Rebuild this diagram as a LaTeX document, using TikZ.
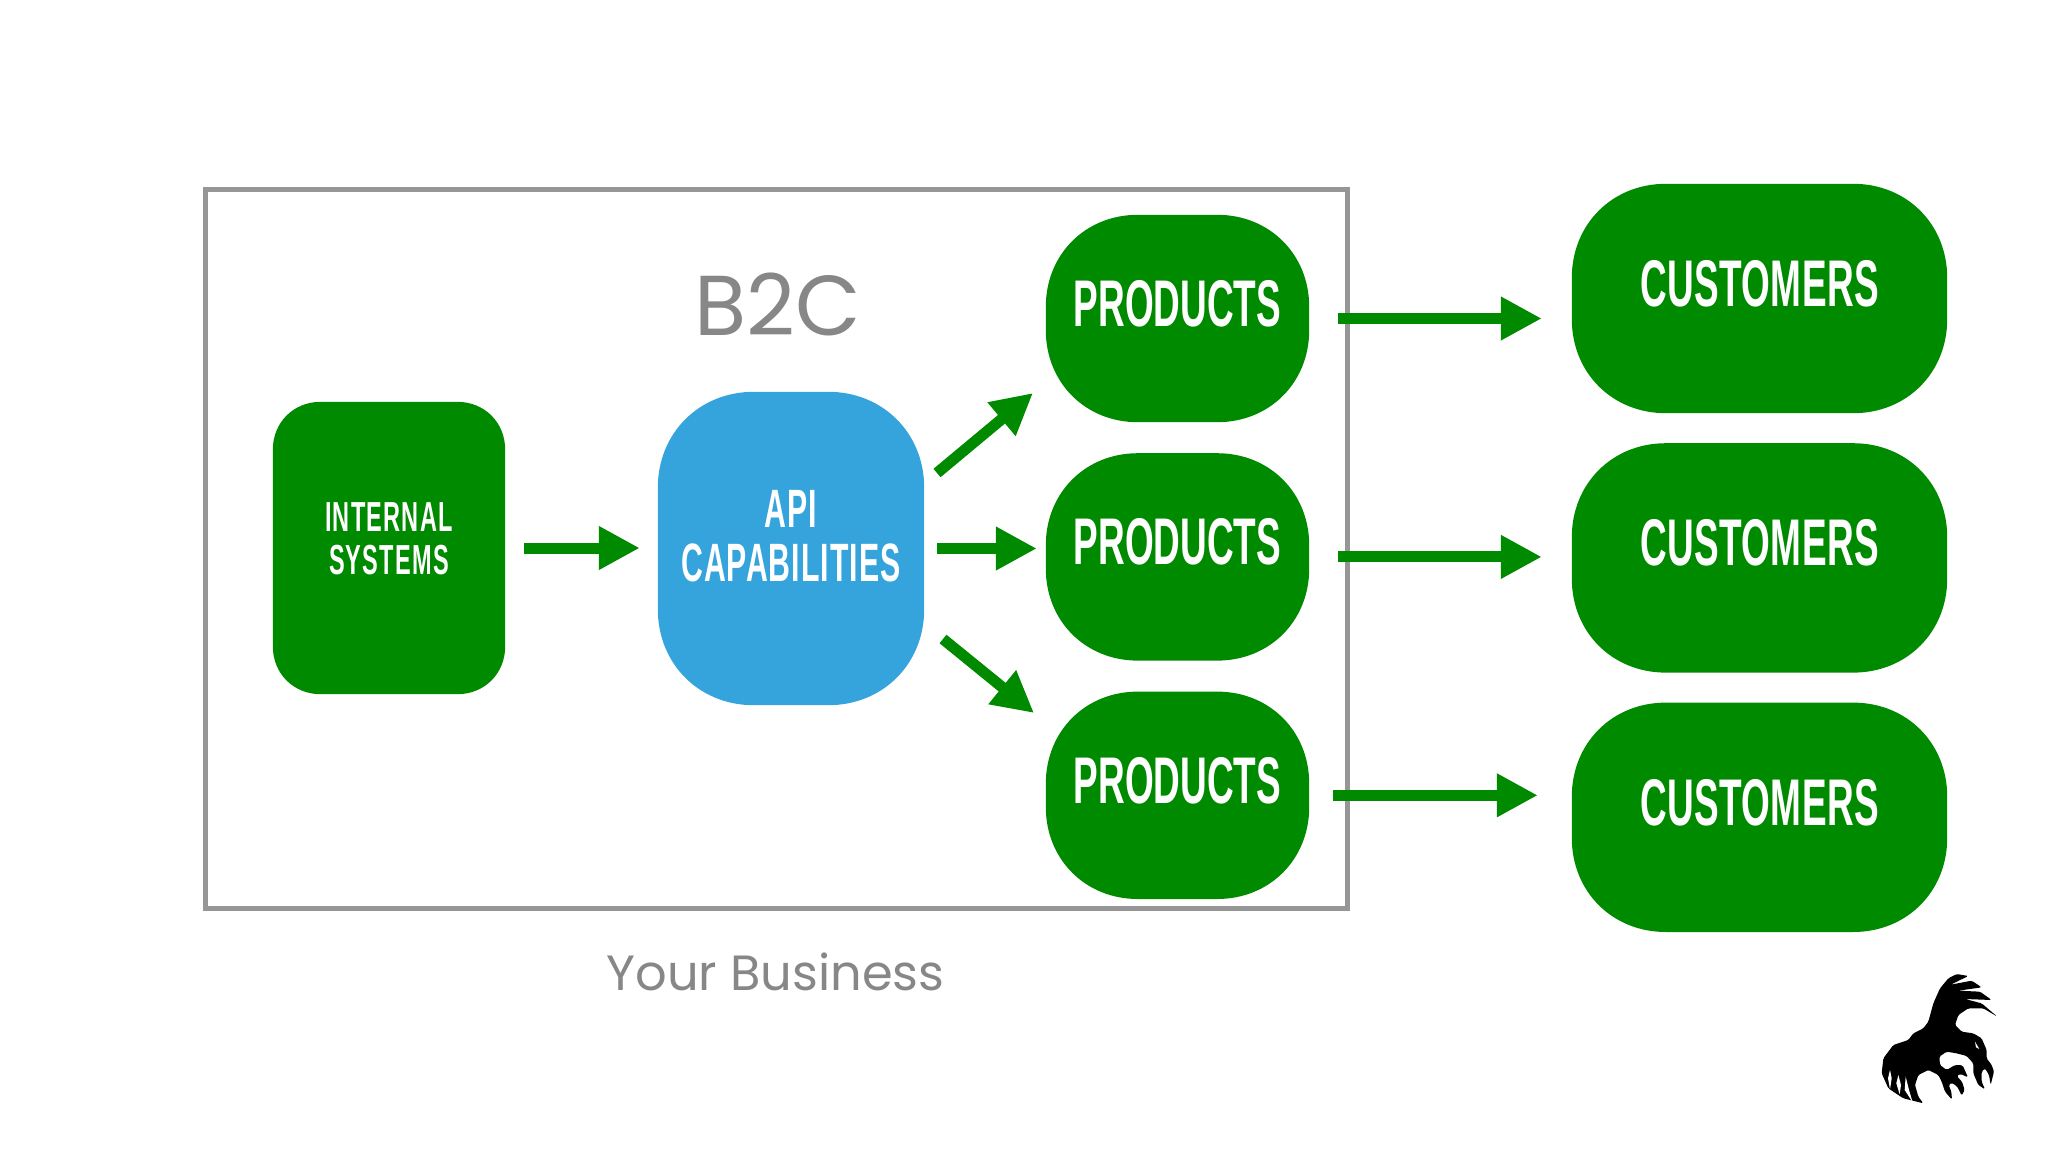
\documentclass[tikz,border=0pt]{standalone}
\usepackage{fontspec}
\usepackage{tikz}
\usetikzlibrary{positioning, arrows.meta, calc}
\setmainfont{Liberation Sans}
\newfontfamily\dinfont[FakeStretch=.56]{Liberation Sans}
\newfontfamily\titlefont{Poppins}
\definecolor{BoxGreen}{RGB}{0,138,0}
\definecolor{ApiBlue}{RGB}{53,164,220}
\definecolor{FrameGray}{RGB}{150,150,150}
\definecolor{TextGray}{RGB}{135,135,135}

% nearly a rectangle, with soft corners
\newdimen\sqL \newdimen\sqR \newdimen\sqT \newdimen\sqB \newdimen\sqr \newdimen\sqc
\makeatletter
\pgfdeclareshape{squircle}{
  \inheritsavedanchors[from=rectangle]
  \inheritanchorborder[from=rectangle]
  \inheritanchor[from=rectangle]{center}
  \inheritanchor[from=rectangle]{north}
  \inheritanchor[from=rectangle]{south}
  \inheritanchor[from=rectangle]{west}
  \inheritanchor[from=rectangle]{east}
  \backgroundpath{
    \southwest \sqL=\pgf@x \sqB=\pgf@y
    \northeast \sqR=\pgf@x \sqT=\pgf@y
    \sqr=\squircleradius \sqc=.43\sqr
    \pgfpathmoveto{\pgfqpoint{\dimexpr\sqL+\sqr}{\sqB}}
    \pgfpathlineto{\pgfqpoint{\dimexpr\sqR-\sqr}{\sqB}}
    \pgfpathcurveto{\pgfqpoint{\dimexpr\sqR-\sqc}{\sqB}}{\pgfqpoint{\sqR}{\dimexpr\sqB+\sqc}}{\pgfqpoint{\sqR}{\dimexpr\sqB+\sqr}}
    \pgfpathlineto{\pgfqpoint{\sqR}{\dimexpr\sqT-\sqr}}
    \pgfpathcurveto{\pgfqpoint{\sqR}{\dimexpr\sqT-\sqc}}{\pgfqpoint{\dimexpr\sqR-\sqc}{\sqT}}{\pgfqpoint{\dimexpr\sqR-\sqr}{\sqT}}
    \pgfpathlineto{\pgfqpoint{\dimexpr\sqL+\sqr}{\sqT}}
    \pgfpathcurveto{\pgfqpoint{\dimexpr\sqL+\sqc}{\sqT}}{\pgfqpoint{\sqL}{\dimexpr\sqT-\sqc}}{\pgfqpoint{\sqL}{\dimexpr\sqT-\sqr}}
    \pgfpathlineto{\pgfqpoint{\sqL}{\dimexpr\sqB+\sqr}}
    \pgfpathcurveto{\pgfqpoint{\sqL}{\dimexpr\sqB+\sqc}}{\pgfqpoint{\dimexpr\sqL+\sqc}{\sqB}}{\pgfqpoint{\dimexpr\sqL+\sqr}{\sqB}}
    \pgfpathclose
  }
}
\makeatother
\tikzset{squircle radius/.store in=\squircleradius, squircle radius=90pt}

\begin{document}
\begin{tikzpicture}[x=1pt, y=-1pt,
  box/.style={
    shape=squircle,
    fill=BoxGreen,
    align=center,
    text=white,
    inner sep=0pt,
    font=\dinfont\bfseries\fontsize{66}{66}\selectfont
  },
  product/.style={box, minimum width=263pt, minimum height=207pt, squircle radius=92pt, text depth=30pt},
  customer/.style={box, minimum width=375pt, minimum height=229pt, squircle radius=94pt, text depth=30pt,
    font=\dinfont\bfseries\fontsize{66}{66}\selectfont\addfontfeature{LetterSpace=.6}},
  arrow/.style={-{Triangle[length=41pt, width=41pt]}, line width=11pt, draw=BoxGreen}
]
  \useasboundingbox (0,0) rectangle (2048,1152);

  \node[draw=FrameGray, line width=5pt, minimum width=1142pt, minimum height=719pt, inner sep=0pt] (business) at (776,548.5) {};

  \node[box, minimum width=232pt, minimum height=292pt, squircle radius=48pt, text depth=18pt,
    font=\dinfont\bfseries\fontsize{42}{43}\selectfont\addfontfeature{LetterSpace=3}] (internal) at (389,548) {INTERNAL\\SYSTEMS};
  \node[box, fill=ApiBlue, minimum width=266pt, minimum height=313pt, squircle radius=96pt, text depth=26pt,
    font=\dinfont\bfseries\fontsize{54}{54}\selectfont\addfontfeature{LetterSpace=2}] (api) at (791,548.5) {API\\CAPABILITIES};

  \node[product] (prod1) at (1177.5,318.5) {PRODUCTS};
  \node[product, below=31pt of prod1] (prod2) {PRODUCTS};
  \node[product, below=31pt of prod2] (prod3) {PRODUCTS};

  \node[customer] (cust1) at (1759.5,298.5) {CUSTOMERS};
  \node[customer, below=30pt of cust1] (cust2) {CUSTOMERS};
  \node[customer, below=30pt of cust2] (cust3) {CUSTOMERS};

  \coordinate (upstart) at (937,473);
  \coordinate (uptip) at (1033,393);
  \coordinate (downstart) at (943,639);
  \coordinate (downtip) at (1034,713);

  \draw[arrow, shorten <=19pt, shorten >=18pt] (internal.east) -- (internal.east -| api.west);
  \draw[arrow, shorten <=13pt, shorten >=9pt] (api.east) -- (api.east -| prod2.west);
  \draw[arrow] (upstart) -- (uptip);
  \draw[arrow] (downstart) -- (downtip);
  \draw[arrow, shorten <=29pt, shorten >=30pt] (prod1.east) -- (prod1.east -| cust1.west);
  \draw[arrow, shorten <=29pt, shorten >=30pt] (prod2.east) -- (prod2.east -| cust2.west);
  \draw[arrow, shorten <=24pt, shorten >=34pt] (prod3.east) -- (prod3.east -| cust3.west);

  \node[text=TextGray, font=\titlefont\fontsize{85}{85}\selectfont, inner sep=0pt] (title) at (778,304) {B2C};
  \node[text=TextGray, font=\titlefont\fontsize{49.5}{50}\selectfont, inner sep=0pt] (caption) at (775.5,972) {Your Business};

  % logo
  \begin{scope}[shift={(1840,950)}, x=.3333pt, y=-.3333pt]
    \fill[black, rounded corners=1.5pt] (250,235) -- (265,215) -- (280,160) -- (300,115) -- (325,85) -- (350,72) -- (385,78)
      -- (332,104) -- (395,92) -- (425,112) -- (355,122) -- (420,125) -- (455,150) -- (375,147) -- (425,160) -- (472,200)
      -- (430,175) -- (385,175) -- (355,195) -- (345,225) -- (365,245) -- (400,250) -- (425,265) -- (440,300) -- (440,325)
      -- (455,345) -- (462,365) -- (452,405) -- (447,375) -- (435,355) -- (425,365) -- (425,395) -- (435,418) -- (415,405)
      -- (400,370) -- (400,340) -- (380,318) -- (350,310) -- (320,305) -- (298,320) -- (300,345) -- (320,360) -- (345,345)
      -- (368,346) -- (384,382) -- (362,372) -- (350,378) -- (366,395) -- (374,420) -- (365,437) -- (352,410) -- (335,398)
      -- (326,405) -- (334,425) -- (336,449) -- (315,425) -- (305,395) -- (295,375) -- (265,360) -- (235,375) -- (225,405)
      -- (235,440) -- (250,460) -- (190,445) -- (145,415) -- (125,370) -- (130,325) -- (160,285) -- (205,270) -- (220,250) -- cycle;
    \fill[white] (405,275) -- (418,297) -- (408,292) -- cycle;
    \fill[white] (150,360) -- (155,385) -- (150,418) -- (144,385) -- cycle;
    \fill[white] (175,375) -- (183,405) -- (179,433) -- (169,400) -- cycle;
    \fill[white] (197,380) -- (207,420) -- (218,457) -- (194,420) -- cycle;
  \end{scope}
\end{tikzpicture}
\end{document}
